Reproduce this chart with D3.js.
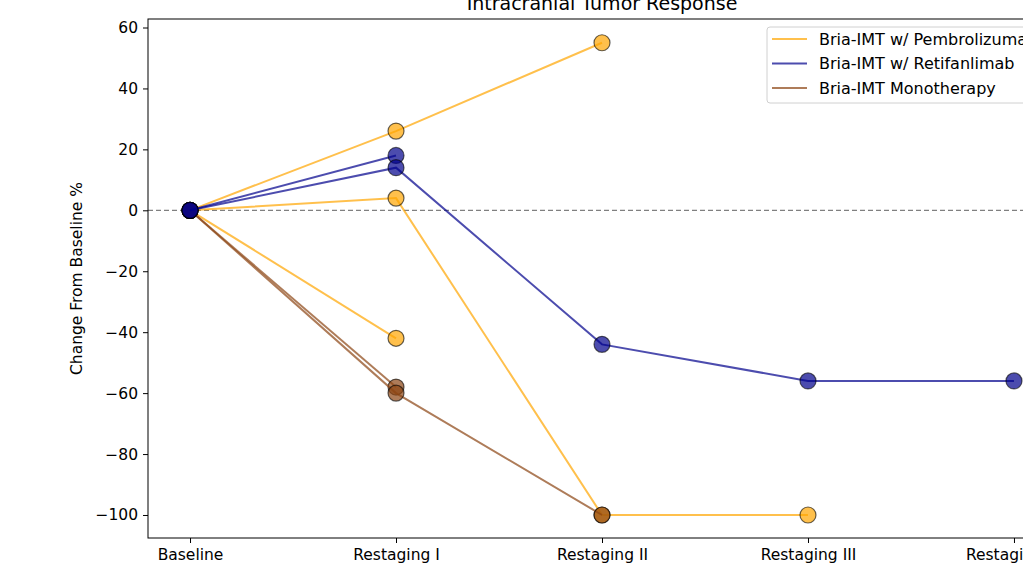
<!DOCTYPE html>
<html>
<head>
<meta charset="utf-8">
<script src="https://cdn.jsdelivr.net/npm/d3@7"></script>
<style>
  body { margin: 0; background: #fff; }
  svg { display: block; font-family: "DejaVu Sans", sans-serif; }
</style>
</head>
<body>
<div id="chart"></div>
<script>
// stages on the x axis
var stages = ["Baseline", "Restaging I", "Restaging II", "Restaging III", "Restaging IV"];
var yTicks = [-100, -80, -60, -40, -20, 0, 20, 40, 60];

// each patient is one list of values (change from baseline %)
var pembroPatient1 = [0, 26, 55];
var pembroPatient2 = [0, 4, -100, -100];
var pembroPatient3 = [0, -42];
var retifPatient1 = [0, 18];
var retifPatient2 = [0, 14, -44, -56, -56];
var monoPatient1 = [0, -58];
var monoPatient2 = [0, -60, -100];

var groupNames = ["Bria-IMT w/ Pembrolizumab", "Bria-IMT w/ Retifanlimab", "Bria-IMT Monotherapy"];
var groupColors = ["#FFA500", "#00008B", "#8B4513"];

// drawing order: orange, brown, blue
var series = [
    { group: 0, values: pembroPatient1 },
    { group: 0, values: pembroPatient2 },
    { group: 0, values: pembroPatient3 },
    { group: 2, values: monoPatient1 },
    { group: 2, values: monoPatient2 },
    { group: 1, values: retifPatient1 },
    { group: 1, values: retifPatient2 }
];

var width = 1023, height = 569;
var plotLeft = 148, plotRight = 1056, plotTop = 19, plotBottom = 538;

var svg = d3.select("#chart").append("svg")
    .attr("width", width)
    .attr("height", height);

// categorical positions with a margin like the original
var x = d3.scaleLinear().domain([-0.204, stages.length - 1 + 0.204]).range([plotLeft, plotRight]);
var y = d3.scaleLinear().domain([-107.55, 62.79]).range([plotBottom, plotTop]);

// zero line
svg.append("line")
    .attr("x1", plotLeft).attr("x2", plotRight)
    .attr("y1", y(0)).attr("y2", y(0))
    .attr("stroke", "#808080")
    .attr("stroke-width", 1.2)
    .attr("stroke-dasharray", "5,3");

var line = d3.line()
    .x(function(d, i) { return x(i); })
    .y(function(d) { return y(d); });

series.forEach(function(s) {
    var c = groupColors[s.group];
    svg.append("path")
        .datum(s.values)
        .attr("d", line)
        .attr("fill", "none")
        .attr("stroke", c)
        .attr("stroke-opacity", 0.7)
        .attr("stroke-width", 2);
    svg.selectAll(null)
        .data(s.values)
        .enter().append("circle")
        .attr("cx", function(d, i) { return x(i); })
        .attr("cy", function(d) { return y(d); })
        .attr("r", 8)
        .attr("fill", c)
        .attr("fill-opacity", 0.7)
        .attr("stroke", "#000")
        .attr("stroke-opacity", 0.6)
        .attr("stroke-width", 1.2);
});

// axes
var xAxis = d3.axisBottom(x)
    .tickValues(d3.range(stages.length))
    .tickFormat(function(i) { return stages[i]; })
    .tickSize(5).tickPadding(6);
var yAxis = d3.axisLeft(y)
    .tickValues(yTicks)
    .tickFormat(function(d) { return d < 0 ? "\u2212" + Math.abs(d) : d; })
    .tickSize(5).tickPadding(5);

var gx = svg.append("g")
    .attr("transform", "translate(0," + plotBottom + ")")
    .call(xAxis);
var gy = svg.append("g")
    .attr("transform", "translate(" + plotLeft + ",0)")
    .call(yAxis);

[gx, gy].forEach(function(g) {
    g.selectAll("text").attr("font-size", 15.5).attr("fill", "#000")
        .attr("font-family", "DejaVu Sans, sans-serif");
    g.select(".domain").remove();
    g.selectAll(".tick line").attr("stroke", "#000").attr("stroke-width", 1);
});

// frame
svg.append("rect")
    .attr("x", plotLeft).attr("y", plotTop)
    .attr("width", plotRight - plotLeft).attr("height", plotBottom - plotTop)
    .attr("fill", "none")
    .attr("stroke", "#000")
    .attr("stroke-width", 1);

// title and y label
svg.append("text")
    .attr("x", (plotLeft + plotRight) / 2)
    .attr("y", 10)
    .attr("text-anchor", "middle")
    .attr("font-size", 19)
    .text("Intracranial Tumor Response");

svg.append("text")
    .attr("transform", "translate(82," + (plotTop + plotBottom) / 2 + ") rotate(-90)")
    .attr("text-anchor", "middle")
    .attr("font-size", 15.5)
    .text("Change From Baseline %");

// legend
var lg = svg.append("g").attr("transform", "translate(767,27)");
lg.append("rect")
    .attr("width", 282).attr("height", 76)
    .attr("rx", 3)
    .attr("fill", "#fff").attr("fill-opacity", 0.8)
    .attr("stroke", "#d0d0d0");
groupNames.forEach(function(name, i) {
    var ly = 12 + i * 24.5;
    lg.append("line")
        .attr("x1", 5).attr("x2", 40)
        .attr("y1", ly).attr("y2", ly)
        .attr("stroke", groupColors[i])
        .attr("stroke-opacity", 0.7)
        .attr("stroke-width", 2);
    lg.append("text")
        .attr("x", 52).attr("y", ly + 5.5)
        .attr("font-size", 16)
        .text(name);
});
</script>
</body>
</html>
